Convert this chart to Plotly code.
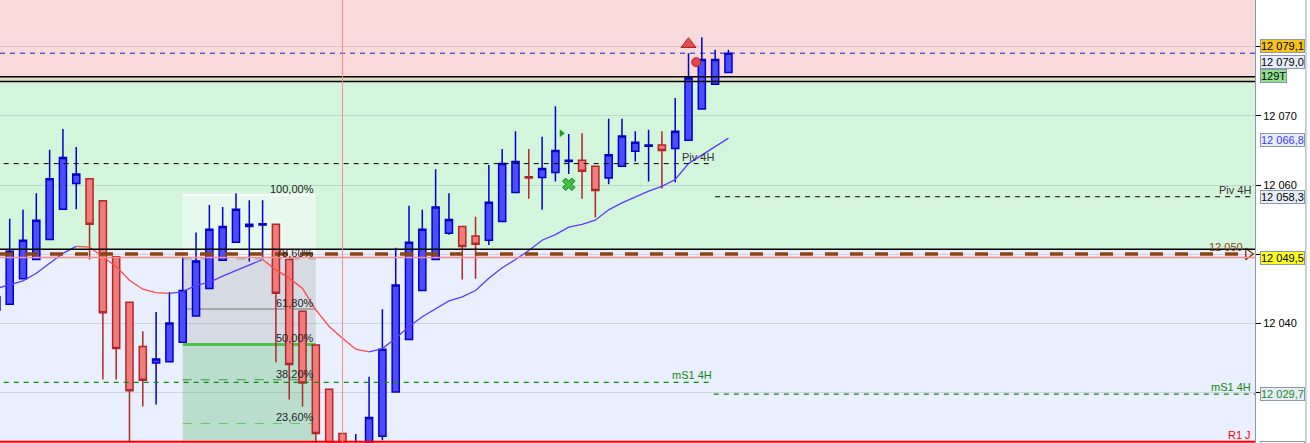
import plotly.graph_objects as go

# candles (index, open, high, low, close)
idx = list(range(56))
opens = [12041.9, 12042.7, 12046.4, 12049.2, 12052.1, 12056.5, 12060.2, 12060.9, 12057.7, 12049.6,
         12043.0, 12036.6, 12034.2, 12034.4, 12037.2, 12041.0, 12045.0, 12049.1, 12051.7, 12054.0,
         12054.2, 12054.3, 12049.2, 12041.7, 12036.8, 12030.4, 12024.0, 12017.8, 12020.5, 12023.6,
         12030.0, 12037.6, 12044.7, 12049.2, 12053.0, 12054.0, 12052.6, 12052.0, 12054.7, 12058.9,
         12061.2, 12061.1, 12061.8, 12063.4, 12063.6, 12062.7, 12061.0, 12062.7, 12064.9, 12065.6,
         12065.8, 12065.3, 12066.5, 12071.0, 12074.6, 12076.3]
highs = [12044.5, 12055.1, 12056.4, 12058.8, 12065.1, 12068.1, 12065.5, 12060.9, 12057.7, 12049.6,
         12043.0, 12038.8, 12041.6, 12044.5, 12049.6, 12053.1, 12057.1, 12056.8, 12058.8, 12057.8,
         12057.8, 12054.3, 12049.2, 12041.7, 12036.8, 12030.4, 12024.0, 12023.9, 12032.2, 12042.0,
         12050.9, 12057.0, 12056.4, 12062.3, 12058.8, 12054.0, 12055.4, 12062.9, 12065.2, 12067.8,
         12065.2, 12067.0, 12071.4, 12067.4, 12067.5, 12062.7, 12069.6, 12069.6, 12067.8, 12068.0,
         12067.8, 12072.6, 12079.1, 12081.4, 12079.6, 12079.6]
lows = [12040.5, 12042.7, 12046.4, 12049.2, 12052.1, 12056.5, 12056.5, 12049.2, 12031.8, 12031.8,
        12022.9, 12027.9, 12028.2, 12034.4, 12037.2, 12041.0, 12045.0, 12049.1, 12051.7, 12048.9,
        12049.5, 12034.3, 12028.9, 12027.9, 12022.0, 12018.5, 12015.2, 12015.5, 12019.8, 12023.0,
        12030.0, 12037.6, 12044.7, 12049.2, 12052.8, 12046.3, 12046.4, 12051.3, 12054.7, 12058.9,
        12058.0, 12056.4, 12060.5, 12061.6, 12058.0, 12055.3, 12060.1, 12062.7, 12063.4, 12060.5,
        12059.5, 12060.4, 12066.5, 12071.0, 12074.6, 12076.3]
closes = [12043.8, 12050.4, 12052.0, 12054.9, 12060.9, 12064.0, 12061.6, 12054.3, 12041.5, 12036.3,
          12030.2, 12031.7, 12034.8, 12040.0, 12044.7, 12049.0, 12053.6, 12054.0, 12056.5, 12054.3,
          12054.4, 12044.3, 12034.0, 12031.3, 12024.0, 12021.0, 12018.5, 12021.5, 12026.3, 12036.2,
          12045.5, 12051.7, 12053.6, 12056.8, 12055.0, 12051.1, 12051.4, 12057.5, 12063.1, 12063.4,
          12061.0, 12062.4, 12065.0, 12063.6, 12062.0, 12059.2, 12064.4, 12067.1, 12066.2, 12065.8,
          12065.0, 12067.8, 12075.5, 12078.2, 12078.2, 12079.1]

# moving average
ma = [12045.0, 12045.5, 12046.1, 12047.2, 12048.7, 12050.1, 12051.1, 12051.0, 12049.6, 12048.2,
      12046.2, 12044.9, 12044.4, 12044.3, 12044.5, 12045.5, 12045.9, 12046.8, 12047.6, 12048.4,
      12049.2, 12047.7, 12046.5, 12045.0, 12041.9, 12039.5, 12037.8, 12036.2, 12035.8, 12036.3,
      12037.8, 12039.5, 12040.9, 12042.1, 12043.2, 12043.8, 12044.7, 12046.5, 12048.0, 12049.2,
      12050.5, 12052.0, 12052.8, 12053.9, 12054.3, 12054.9, 12056.4, 12057.4, 12058.3, 12059.1,
      12059.8, 12060.8, 12063.1, 12064.3, 12065.6, 12066.8]

# levels
zone_top = [12075.7, 12075.0]
zone_mid = 12050.7
piv_4h = [12063.1, 12058.3]
ms1_4h = [12031.4, 12029.7]
level_12050 = 12050.0
level_12049_5 = 12049.5
last_price = 12079.1
r1_j = 12022.8
level_split = 53.9     # bar where 4H levels roll over
vline_bar = 26

# fibonacci
fib_start, fib_end = 14, 24
fib_low, fib_high = 12015.2, 12058.6
fib_levels = [1.0, 0.786, 0.618, 0.5, 0.382, 0.236]
fib_labels = ["100,00%", "78,60%", "61,80%", "50,00%", "38,20%", "23,60%"]

# signal markers
sig_up = ([52], [12080.4])
sig_dot = ([52.58], [12077.8])
sig_green = ([42.45], [12067.5])
sig_cross = ([43], [12060.1])

# right axis labels: (value, text, bg, fontcolor, shift)
price_tags = [
    (12079.1, "12 079,1", "#f7c31a", "black", 7),
    (12079.0, "12 079,0", "#e6edf7", "black", -8),
    (12075.8, "129T", "#8ee08e", "black", 0),
    (12066.8, "12 066,8", "#e6edf7", "#3a3aff", -2),
    (12058.3, "12 058,3", "#e6edf7", "black", 0),
    (12049.5, "12 049,5", "#ffff20", "black", -1),
    (12029.7, "12 029,7", "#e6edf7", "#1a8a1a", 0),
    (12022.8, "12 022,8", "#ffffff", "red", -6),
]

x_range = [0.271, 94.56]
y_range = [12022.61, 12086.81]
FONT = "Arial, Liberation Sans, sans-serif"

fig = go.Figure()

shapes = []
# background zones
shapes.append(dict(type="rect", xref="paper", x0=0, x1=1, y0=zone_top[0], y1=y_range[1],
                   fillcolor="#f9dada", line_width=0, layer="below"))
shapes.append(dict(type="rect", xref="paper", x0=0, x1=1, y0=zone_top[1], y1=zone_top[0],
                   fillcolor="#e0dcc6", line_width=0, layer="below"))
shapes.append(dict(type="rect", xref="paper", x0=0, x1=1, y0=zone_mid, y1=zone_top[1],
                   fillcolor="#d3f5dc", line_width=0, layer="below"))
# fib box fills
rng = fib_high - fib_low
shapes.append(dict(type="rect", x0=fib_start, x1=fib_end, y0=fib_low + 0.786 * rng, y1=fib_high,
                   fillcolor="rgba(255,255,255,0.45)", line_width=0, layer="below"))
shapes.append(dict(type="rect", x0=fib_start, x1=fib_end, y0=fib_low + 0.5 * rng, y1=fib_low + 0.786 * rng,
                   fillcolor="rgba(170,170,170,0.3)", line_width=0, layer="below"))
shapes.append(dict(type="rect", x0=fib_start, x1=fib_end, y0=fib_low, y1=fib_low + 0.5 * rng,
                   fillcolor="rgba(90,185,110,0.33)", line_width=0, layer="below"))

fib_styles = [("white", 2, "solid"), ("#b8b8b8", 2, "dash"), ("#a8a8a8", 2, "solid"),
              ("#4cc44c", 3, "solid"), ("#3aa03a", 1, "dash"), ("#5ccc5c", 1, "dash")]
for lv, (c, w, d) in zip(fib_levels, fib_styles):
    shapes.append(dict(type="line", x0=fib_start, x1=fib_end, y0=fib_low + lv * rng, y1=fib_low + lv * rng,
                       line=dict(color=c, width=w, dash=d), layer="below"))

def hline(y, color, width=1, dash="solid", x0=0, x1=1, xref="paper", layer="above"):
    shapes.append(dict(type="line", xref=xref, x0=x0, x1=x1, y0=y, y1=y,
                       line=dict(color=color, width=width, dash=dash), layer=layer))

hline(zone_top[0], "black", 1.5)
hline(zone_top[1], "black", 1.5)
hline(zone_mid, "black", 1.5)
hline(last_price, "#1a1acc", 1, "5px,5px")
hline(piv_4h[0], "black", 1, "5px,5px", x0=0.55, x1=level_split - 0.1, xref="x")
hline(piv_4h[1], "black", 1, "5px,5px", x0=level_split + 0.1, x1=x_range[1], xref="x")
hline(ms1_4h[0], "#108a10", 1.2, "5px,5px", x0=0.55, x1=level_split, xref="x")
hline(ms1_4h[1], "#108a10", 1.2, "5px,5px", x0=level_split, x1=x_range[1], xref="x")
hline(level_12049_5, "#ff8a8a", 1.5)
hline(level_12050, "#8a4510", 3.5, "13px,12px", x0=x_range[0], x1=93.7, xref="x")
hline(r1_j, "red", 2)
shapes.append(dict(type="line", x0=vline_bar, x1=vline_bar, yref="paper", y0=0, y1=1,
                   line=dict(color="#ff8a8a", width=1)))
shapes.append(dict(type="line", xref="paper", x0=1.0406, x1=1.0406, yref="paper", y0=0, y1=1,
                   line=dict(color="#9aa4ae", width=1)))

# markers drawn under candles
fig.add_trace(go.Scatter(x=sig_dot[0], y=sig_dot[1], mode="markers",
                         marker=dict(symbol="circle", size=9, color="#e04848", line=dict(color="#b02020", width=1))))

fig.add_trace(go.Candlestick(
    x=idx, open=opens, high=highs, low=lows, close=closes,
    increasing=dict(fillcolor="#4d4dff", line=dict(color="#0000c8", width=1.5)),
    decreasing=dict(fillcolor="#f07c7c", line=dict(color="#b02828", width=1.5)),
    whiskerwidth=0,
))

# moving average coloured by slope
run_x, run_y, run_up = [idx[0]], [ma[0]], None
segments = []
for i in range(1, len(ma)):
    up = ma[i] >= ma[i - 1]
    if run_up is None or up == run_up:
        run_x.append(idx[i]); run_y.append(ma[i]); run_up = up
    else:
        segments.append((run_x, run_y, run_up))
        run_x, run_y, run_up = [idx[i - 1], idx[i]], [ma[i - 1], ma[i]], up
segments.append((run_x, run_y, run_up))
for sx, sy, up in segments:
    fig.add_trace(go.Scatter(x=sx, y=sy, mode="lines",
                             line=dict(color="#5a3cff" if up else "#ff4a4a", width=1.3)))

fig.add_trace(go.Scatter(x=sig_up[0], y=sig_up[1], mode="markers",
                         marker=dict(symbol="triangle-up", size=13, color="#e05050", line=dict(color="#b02020", width=1))))
fig.add_trace(go.Scatter(x=sig_green[0], y=sig_green[1], mode="markers",
                         marker=dict(symbol="triangle-right", size=7, color="#20a020")))
fig.add_trace(go.Scatter(x=sig_cross[0], y=sig_cross[1], mode="markers",
                         marker=dict(symbol="x", size=11, color="#40c040", line=dict(color="#1a7a1a", width=1))))
fig.add_trace(go.Scatter(x=[94.05], y=[level_12050], mode="markers",
                         marker=dict(symbol="triangle-right-open", size=10, color="#8a4510", line=dict(width=1.5))))

annotations = []
for lv, lab in zip(fib_levels, fib_labels):
    annotations.append(dict(x=fib_end, y=fib_low + lv * rng, text=lab, showarrow=False,
                            xanchor="right", yanchor="bottom", yshift=-2,
                            font=dict(family=FONT, size=11, color="#222")))

def tag(x, y, text, color, xref="x", xshift=0):
    annotations.append(dict(x=x, y=y, xref=xref, text=text, showarrow=False, xanchor="right",
                            yanchor="bottom", yshift=-1, xshift=xshift,
                            font=dict(family=FONT, size=11, color=color)))

tag(level_split, piv_4h[0], "Piv 4H", "#333", xshift=2)
tag(1, piv_4h[1], "Piv 4H", "#333", xref="paper", xshift=-2)
tag(level_split, ms1_4h[0], "mS1 4H", "#108a10")
tag(1, ms1_4h[1], "mS1 4H", "#108a10", xref="paper", xshift=-2)
tag(1, level_12050, "12 050", "#8a4510", xref="paper", xshift=-10)
tag(1, r1_j, "R1 J", "red", xref="paper", xshift=-2)

for val, text, bg, fc, shift in price_tags:
    annotations.append(dict(xref="paper", x=1, y=val, text=text, showarrow=False,
                            xanchor="left", yanchor="middle", xshift=5, yshift=shift,
                            bgcolor=bg, bordercolor="#8a98a8", borderwidth=1, borderpad=0,
                            font=dict(family=FONT, size=11, color=fc)))

# labelled ticks only where no price tag covers them; the rest get bare tick marks
tick_vals = [12040, 12060, 12070]
tick_text = ["12 040", "12 060", "12 070"]
hidden_ticks = [12030, 12050, 12080]

fig.update_layout(
    width=1310, height=443,
    margin=dict(l=0, r=55, t=0, b=0),
    paper_bgcolor="white", plot_bgcolor="#e9effc",
    showlegend=False, boxgap=0.24,
    shapes=shapes, annotations=annotations,
    xaxis=dict(range=x_range, showgrid=False, zeroline=False, showticklabels=False,
               rangeslider=dict(visible=False), fixedrange=True),
    yaxis=dict(range=y_range, side="right", tickvals=tick_vals, ticktext=tick_text,
               showgrid=True, gridcolor="rgba(140,150,165,0.3)", gridwidth=1, zeroline=False,
               ticks="outside", ticklen=5, tickcolor="black",
               tickfont=dict(family=FONT, size=11, color="black"),
               showline=True, linecolor="#8a98a8", linewidth=1,
               minor=dict(tickvals=hidden_ticks, ticks="outside", ticklen=5, tickcolor="black",
                          showgrid=True, gridcolor="rgba(140,150,165,0.3)", gridwidth=1)),
)

# the page body has a default 8px margin; drop it so the figure fills the window
fig.write_html("out.html", config={"displayModeBar": False},
               post_script="document.body.style.margin='0';")
